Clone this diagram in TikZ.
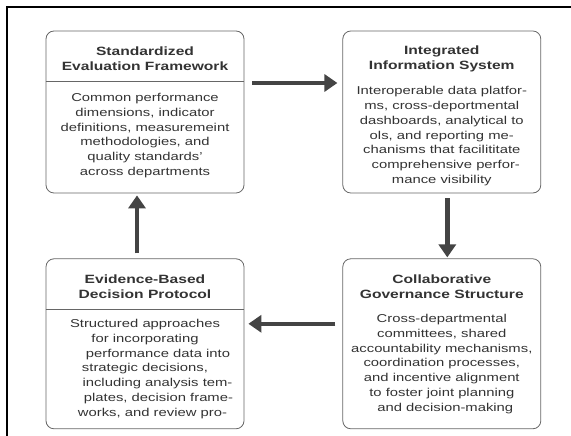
\documentclass[tikz,border=0pt]{standalone}
\usepackage{fontspec}
\setmainfont{Liberation Sans}[FakeStretch=1.3]
\usetikzlibrary{positioning, arrows.meta}

\definecolor{ink}{HTML}{333333}
\definecolor{edgegray}{HTML}{666666}
\definecolor{arrowgray}{HTML}{444444}

\begin{document}
\begin{tikzpicture}[x=1pt, y=1pt,
        node distance=65pt and 98pt,
        every node/.style={text=ink},
        card/.style={rectangle, rounded corners=8pt, draw=edgegray, line width=0.8pt, minimum width=198pt, inner sep=0pt},
        heading/.style={font=\bfseries\fontsize{12}{15}\selectfont, align=center, inner sep=0pt},
        body/.style={font=\fontsize{11.4}{14.8}\selectfont, align=center, inner sep=0pt},
        divider/.style={draw=edgegray, line width=0.6pt},
        flow/.style={-{Triangle[length=13pt,width=17pt]}, line width=4.5pt, draw=arrowgray}
    ]
        \useasboundingbox (0,0) rectangle (571,436);

        % Frame
        \draw[line width=2pt] (571,429) -- (7,429) -- (7,0);

        % Cards
        \node[card, minimum height=162pt] (std) at (145,324) {};
        \node[card, minimum height=162pt, right=of std] (iis) {};
        \node[card, minimum height=170pt, below=of std] (ebd) {};
        \node[card, minimum height=170pt, right=of ebd] (cgs) {};

        % Headings
        \node[heading] (stdHead) at ([yshift=-28pt]std.north) {Standardized\\Evaluation Framework};
        \node[heading] (iisHead) at ([yshift=-28pt]iis.north) {Integrated\\Information System};
        \node[heading] (ebdHead) at ([yshift=-28pt]ebd.north) {Evidence-Based\\Decision Protocol};
        \node[heading] (cgsHead) at ([yshift=-28pt]cgs.north) {Collaborative\\Governance Structure};

        \draw[divider] ([yshift=-51pt]std.north west) -- ([yshift=-51pt]std.north east);
        \draw[divider] ([yshift=-51pt]ebd.north west) -- ([yshift=-51pt]ebd.north east);

        % Descriptions
        \node[body] (stdText) at ([yshift=-105pt]std.north) {Common performance\\dimensions, indicator\\definitions, measuremeint\\methodologies, and\\quality standards'\\across departments};
        \node[body] (iisText) at ([yshift=-105.5pt]iis.north) {Interoperable data platfor-\\ms, cross-deportmental\hspace*{12pt}\\dashboards, analytical to\\ols, and reporting me-\\chanisms that facilititate\\\hspace*{8pt}comprehensive perfor-\\mance visibility};
        \node[body] (ebdText) at ([yshift=-110.5pt]ebd.north) {Structured approaches\\for incorporating\hspace*{14pt}\\\hspace*{26pt}performance data into\\strategic decisions,\hspace*{22pt}\\\hspace*{25pt}including analysis tem-\\\hspace*{27pt}plates, decision frame-\\\hspace*{15pt}works, and review pro-};
        \node[body] (cgsText) at ([yshift=-105.5pt]cgs.north) {Cross-departmental\\committees, shared\\accountability mechanisms,\\coordination processes,\\and incentive alignment\\to foster joint planning\\\hspace*{7pt}and decision-making};

        % Arrows
        \draw[flow, shorten <=8pt, shorten >=5pt] ([yshift=29pt]std.east) -- ([yshift=29pt]iis.west);
        \draw[flow, shorten <=5pt, shorten >=1pt] ([xshift=5.5pt]iis.south) -- ([xshift=5.5pt]cgs.north);
        \draw[flow, shorten <=7pt, shorten >=4pt] ([yshift=20pt]cgs.west) -- ([yshift=20pt]ebd.east);
        \draw[flow, shorten <=5pt, shorten >=2pt] ([xshift=-8pt]ebd.north) -- ([xshift=-8pt]std.south);

    \end{tikzpicture}
\end{document}
